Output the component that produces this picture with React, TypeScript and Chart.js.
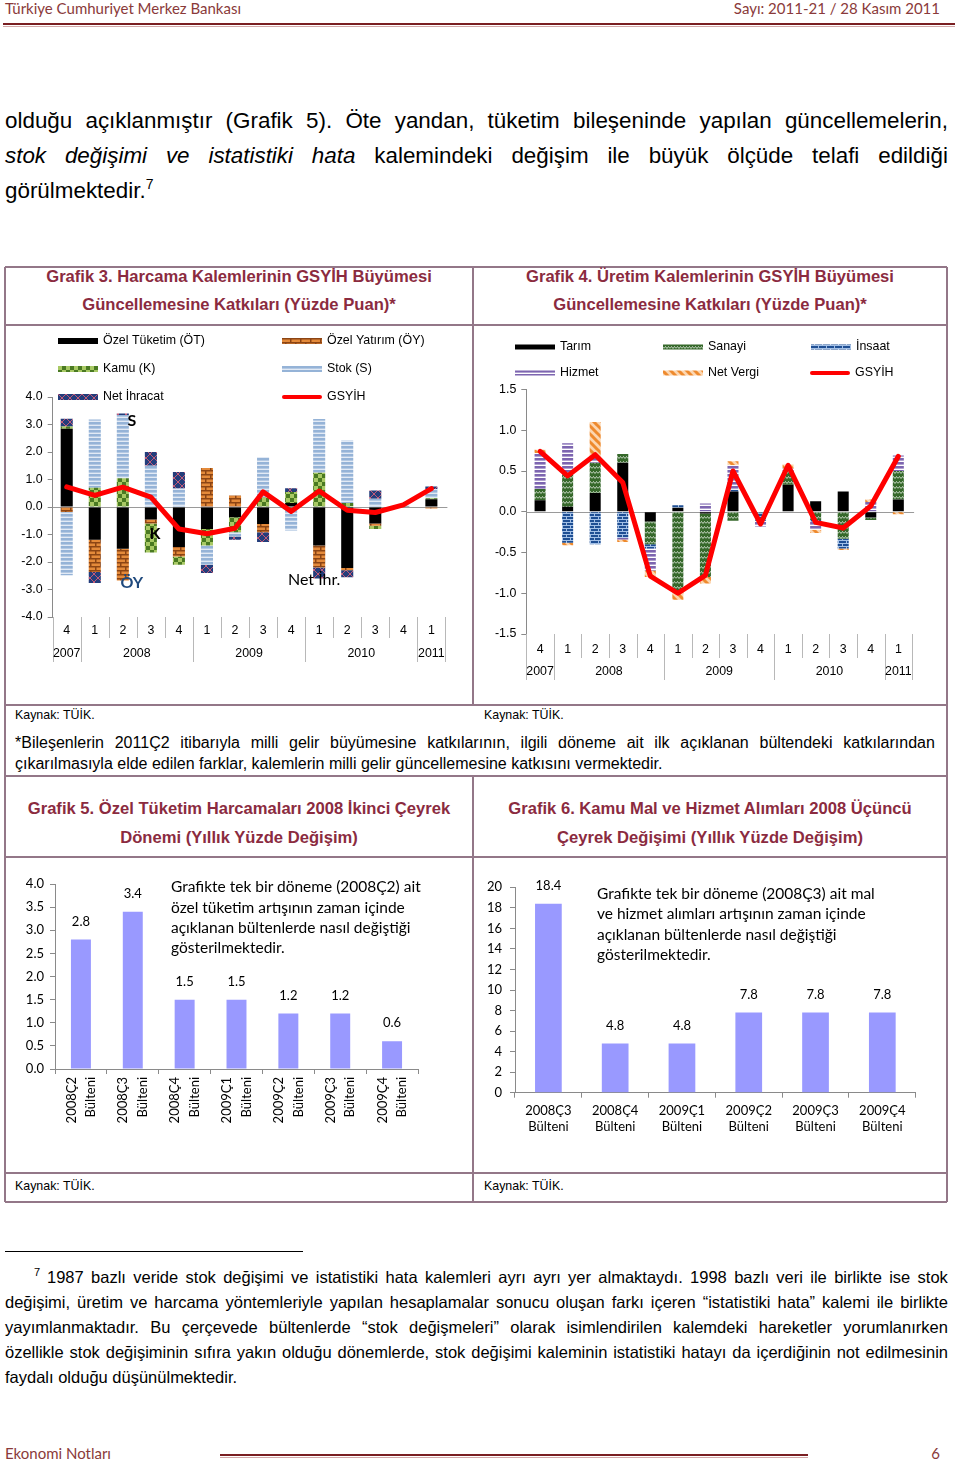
import React, { useEffect, useRef } from 'react';
import { Chart, registerables } from 'chart.js';
Chart.register(...registerables);

const ARIAL = '"Liberation Sans", Arial, sans-serif';
const LATO = 'Lato, "Open Sans", sans-serif';
const TITLE_COLOR = '#8b2b3f';
const BORDER = '#937788';

// ---------- Grafik 3 / 4 shared axis labels ----------
const quarterLabels = ['4', '1', '2', '3', '4', '1', '2', '3', '4', '1', '2', '3', '4', '1'];
const yearLabels = ['2007', '2008', '2009', '2010', '2011'];
const yearStart = [0, 1, 5, 9, 13];
const yearEnd = [0, 4, 8, 12, 13];

// ---------- Grafik 3 data (harcama kalemleri) ----------
const g3OT = [2.85, -1.19, -1.52, -0.45, -1.45, -0.8, -0.37, -0.62, 0.15, -1.4, -2.22, -0.6, 0.03, 0.28];
const g3OY = [-0.18, -1.17, -1.15, -0.15, -0.35, 1.42, 0.42, -0.3, -0.1, -0.8, -0.08, -0.08, 0.0, -0.05];
const g3K = [0.08, 0.7, 1.05, -1.05, -0.3, -0.6, -0.55, 0.35, 0.4, 1.25, 0.15, -0.12, 0.0, 0.04];
const g3S = [-2.3, 2.48, 2.3, 1.5, 0.67, -0.7, -0.15, 1.47, -0.75, 1.95, 2.27, 0.3, 0.03, 0.33];
const g3NX = [0.28, -0.4, 0.05, 0.5, 0.6, -0.3, -0.12, -0.35, 0.13, -0.4, -0.25, 0.3, 0.0, 0.1];
const g3GDP = [0.73, 0.42, 0.72, 0.36, -0.8, -0.97, -0.77, 0.55, -0.16, 0.58, -0.12, -0.2, 0.08, 0.67];

// ---------- Grafik 4 data (üretim kalemleri) ----------
const g4Tarim = [0.14, 0.06, 0.23, 0.6, -0.12, 0.05, -0.02, 0.25, 0.0, 0.33, 0.13, 0.25, -0.07, 0.15];
const g4Sanayi = [0.14, 0.39, 0.37, 0.11, -0.28, -0.98, -0.78, -0.11, -0.01, 0.17, -0.1, -0.33, -0.03, 0.35];
const g4Insaat = [0.0, -0.38, -0.4, -0.32, -0.05, 0.03, 0.0, 0.02, -0.1, 0.0, -0.02, -0.12, 0.0, 0.0];
const g4Hizmet = [0.44, 0.39, 0.06, -0.02, -0.27, 0.0, 0.1, 0.3, -0.07, 0.03, -0.1, 0.0, 0.12, 0.19];
const g4NetVergi = [0.04, -0.03, 0.44, -0.03, -0.08, -0.1, -0.08, 0.05, 0.0, 0.05, -0.04, -0.02, 0.03, -0.03];
const g4GDP = [0.74, 0.44, 0.7, 0.36, -0.79, -1.0, -0.78, 0.5, -0.15, 0.57, -0.13, -0.2, 0.07, 0.68];

// ---------- Grafik 5 data ----------
const g5Labels = ['2008Ç2', '2008Ç3', '2008Ç4', '2009Ç1', '2009Ç2', '2009Ç3', '2009Ç4'];
const g5Values = [2.8, 3.4, 1.5, 1.5, 1.2, 1.2, 0.6];

// ---------- Grafik 6 data ----------
const g6Labels = ['2008Ç3', '2008Ç4', '2009Ç1', '2009Ç2', '2009Ç3', '2009Ç4'];
const g6Values = [18.4, 4.8, 4.8, 7.8, 7.8, 7.8];

function makePatterns() {
  const mk = (w: number, h: number, fn: (c: CanvasRenderingContext2D) => void) => {
    const cv = document.createElement('canvas');
    cv.width = w;
    cv.height = h;
    const c = cv.getContext('2d')!;
    fn(c);
    return c.createPattern(cv, 'repeat')!;
  };
  return {
    oy: mk(10, 8, (c) => {
      c.fillStyle = '#e48a3a'; c.fillRect(0, 0, 10, 8);
      c.fillStyle = '#8c4514';
      c.fillRect(0, 0, 10, 1.5); c.fillRect(0, 4, 10, 1.5);
      c.fillRect(0, 0, 1.5, 4); c.fillRect(5, 4, 1.5, 4);
    }),
    k: mk(8, 8, (c) => {
      c.fillStyle = '#a8c964'; c.fillRect(0, 0, 8, 8);
      c.fillStyle = '#4a7a22'; c.fillRect(0, 0, 4, 4); c.fillRect(4, 4, 4, 4);
    }),
    s: mk(4, 4, (c) => {
      c.fillStyle = '#e2eaf5'; c.fillRect(0, 0, 4, 4);
      c.fillStyle = '#95b3d7'; c.fillRect(0, 0, 4, 2.6);
    }),
    nx: mk(8, 8, (c) => {
      c.fillStyle = '#233d7b'; c.fillRect(0, 0, 8, 8);
      c.strokeStyle = '#c25a78'; c.lineWidth = 1;
      c.beginPath(); c.moveTo(0, 0); c.lineTo(8, 8); c.moveTo(8, 0); c.lineTo(0, 8); c.stroke();
    }),
    san: mk(6, 5, (c) => {
      c.fillStyle = '#36692b'; c.fillRect(0, 0, 6, 5);
      c.strokeStyle = 'rgba(255,255,255,0.85)'; c.lineWidth = 0.8;
      c.beginPath(); c.moveTo(0, 3.5); c.lineTo(1.5, 1.5); c.lineTo(3, 3.5); c.lineTo(4.5, 1.5); c.lineTo(6, 3.5); c.stroke();
    }),
    ins: mk(8, 6, (c) => {
      c.fillStyle = '#1f4f94'; c.fillRect(0, 0, 8, 6);
      c.fillStyle = '#a3c0e6';
      c.fillRect(0, 0, 8, 1); c.fillRect(0, 3, 8, 1); c.fillRect(0, 0, 1, 3); c.fillRect(4, 3, 1, 3);
    }),
    hiz: mk(4, 4, (c) => {
      c.fillStyle = '#ffffff'; c.fillRect(0, 0, 4, 4);
      c.fillStyle = '#7d65b0'; c.fillRect(0, 0, 4, 2.6);
    }),
    nv: mk(8, 8, (c) => {
      c.fillStyle = '#fcd6b0'; c.fillRect(0, 0, 8, 8);
      c.strokeStyle = '#ee8a2e'; c.lineWidth = 3;
      c.beginPath();
      for (const o of [-8, 0, 8]) { c.moveTo(o - 1, -1); c.lineTo(o + 9, 9); }
      c.stroke();
    }),
  };
}

type LegendItem = { label: string; fill: any; line?: boolean; x: number; y: number };
type Note = { text: string; i: number; v: number; dx: number; color: string; bold: boolean };

function quarterPlugin(o: {
  qDy: number; yDy: number; shortLen: number; longLen: number;
  legend: LegendItem[]; canvasLeft: number; canvasTop: number; swW: number; swH: number; notes?: Note[];
}) {
  return {
    id: 'quarterAxis',
    beforeDatasetsDraw(chart: any) {
      const { ctx, chartArea, scales } = chart;
      const y0 = Math.round(scales.y.getPixelForValue(0)) + 0.5;
      ctx.save();
      ctx.strokeStyle = '#9a9a9a';
      ctx.lineWidth = 1;
      ctx.beginPath();
      ctx.moveTo(chartArea.left, y0);
      ctx.lineTo(chartArea.right + 2, y0);
      ctx.stroke();
      ctx.restore();
    },
    afterDraw(chart: any) {
      const { ctx, chartArea, scales } = chart;
      const { left, right, bottom } = chartArea;
      const x = scales.x;
      const y = scales.y;
      const n = quarterLabels.length;
      const w = (right - left) / n;
      ctx.save();
      ctx.strokeStyle = '#b8b8b8';
      ctx.lineWidth = 1;
      const longSet = new Set([...yearStart, n]);
      for (let i = 0; i <= n; i++) {
        const px = Math.round(left + i * w) + 0.5;
        ctx.beginPath();
        ctx.moveTo(px, bottom);
        ctx.lineTo(px, bottom + (longSet.has(i) ? o.longLen : o.shortLen));
        ctx.stroke();
      }
      ctx.fillStyle = '#000';
      ctx.font = `12.4px ${ARIAL}`;
      ctx.textAlign = 'center';
      ctx.textBaseline = 'middle';
      quarterLabels.forEach((q, i) => ctx.fillText(q, x.getPixelForValue(i), bottom + o.qDy));
      yearLabels.forEach((yl, k) => {
        const cx = (x.getPixelForValue(yearStart[k]) + x.getPixelForValue(yearEnd[k])) / 2;
        ctx.fillText(yl, cx, bottom + o.yDy);
      });
      // legend
      ctx.textAlign = 'left';
      o.legend.forEach((it) => {
        const lx = it.x - o.canvasLeft;
        const ly = it.y - o.canvasTop;
        if (it.line) {
          ctx.strokeStyle = it.fill;
          ctx.lineWidth = 4;
          ctx.lineCap = 'round';
          ctx.beginPath();
          ctx.moveTo(lx + 2, ly);
          ctx.lineTo(lx + o.swW - 2, ly);
          ctx.stroke();
        } else {
          ctx.fillStyle = it.fill;
          ctx.fillRect(lx, ly - o.swH / 2, o.swW, o.swH);
        }
        ctx.fillStyle = '#000';
        ctx.fillText(it.label, lx + o.swW + 5, ly);
      });
      // annotations
      (o.notes || []).forEach((nt) => {
        ctx.fillStyle = nt.color;
        ctx.font = `${nt.bold ? 'bold ' : ''}16px ${LATO}`;
        ctx.textAlign = 'center';
        ctx.fillText(nt.text, x.getPixelForValue(nt.i) + nt.dx, y.getPixelForValue(nt.v));
      });
      ctx.restore();
    },
  };
}

function ChartBox({ left, top, width, height, make }: { left: number; top: number; width: number; height: number; make: () => any }) {
  const ref = useRef<HTMLCanvasElement>(null);
  useEffect(() => {
    const c = new Chart(ref.current!, make());
    return () => c.destroy();
  }, []);
  return (
    <canvas
      ref={ref}
      width={width}
      height={height}
      style={{ position: 'absolute', left, top, width, height }}
    />
  );
}

const lineDs = (data: number[]) => ({
  type: 'line',
  label: 'GSYİH',
  data,
  borderColor: '#ff0000',
  borderWidth: 5,
  pointRadius: 0,
  tension: 0,
  order: 0,
  borderJoinStyle: 'round',
  borderCapStyle: 'round',
});

function yAxis(min: number, max: number, step: number, width: number, fontFamily: string, size: number, pad: number, decimals: number) {
  return {
    min,
    max,
    stacked: true,
    ticks: {
      stepSize: step,
      callback: (v: number) => Number(v).toFixed(decimals),
      font: { family: fontFamily, size },
      color: '#000',
      padding: pad,
    },
    grid: { drawOnChartArea: false, drawTicks: true, tickLength: 5, color: '#8a8a8a' },
    border: { color: '#8a8a8a' },
    afterFit: (s: any) => { s.width = width; },
  };
}

function makeG3() {
  const p = makePatterns();
  const bar = { type: 'bar', order: 1, barPercentage: 0.43, categoryPercentage: 1, borderWidth: 0 };
  const legend: LegendItem[] = [
    { label: 'Özel Tüketim (ÖT)', fill: '#000', x: 58, y: 341 },
    { label: 'Kamu (K)', fill: p.k, x: 58, y: 369 },
    { label: 'Net İhracat', fill: p.nx, x: 58, y: 397 },
    { label: 'Özel Yatırım (ÖY)', fill: p.oy, x: 282, y: 341 },
    { label: 'Stok (S)', fill: p.s, x: 282, y: 369 },
    { label: 'GSYİH', fill: '#ff0000', line: true, x: 282, y: 397 },
  ];
  const notes: Note[] = [
    { text: 'S', i: 2, v: 3.13, dx: 9, color: '#000', bold: true },
    { text: 'K', i: 3, v: -0.98, dx: 4, color: '#000', bold: true },
    { text: 'ÖY', i: 2, v: -2.75, dx: 9, color: '#1f497d', bold: true },
    { text: 'Net İhr.', i: 9, v: -2.66, dx: -5, color: '#000', bold: false },
  ];
  return {
    type: 'bar',
    data: {
      labels: quarterLabels,
      datasets: [
        lineDs(g3GDP),
        { ...bar, label: 'Özel Tüketim (ÖT)', data: g3OT, backgroundColor: '#000' },
        { ...bar, label: 'Özel Yatırım (ÖY)', data: g3OY, backgroundColor: p.oy },
        { ...bar, label: 'Kamu (K)', data: g3K, backgroundColor: p.k },
        { ...bar, label: 'Stok (S)', data: g3S, backgroundColor: p.s },
        { ...bar, label: 'Net İhracat', data: g3NX, backgroundColor: p.nx },
      ],
    },
    options: {
      responsive: false,
      animation: false,
      layout: { padding: { left: 0, top: 67, right: 19.6, bottom: 0 } },
      plugins: { legend: { display: false }, tooltip: { enabled: false } },
      scales: {
        x: {
          stacked: true,
          grid: { display: false },
          border: { display: false },
          ticks: { display: false },
          afterFit: (s: any) => { s.height = 58; },
        },
        y: yAxis(-4, 4, 1, 42.7, ARIAL, 12.4, 5, 1),
      },
    },
    plugins: [quarterPlugin({ qDy: 14, yDy: 37, shortLen: 21, longLen: 45, legend, canvasLeft: 10, canvasTop: 330, swW: 40, swH: 6, notes })],
  };
}

function makeG4() {
  const p = makePatterns();
  const bar = { type: 'bar', order: 1, barPercentage: 0.4, categoryPercentage: 1, borderWidth: 0 };
  const legend: LegendItem[] = [
    { label: 'Tarım', fill: '#000', x: 515, y: 347 },
    { label: 'Sanayi', fill: p.san, x: 663, y: 347 },
    { label: 'İnsaat', fill: p.ins, x: 811, y: 347 },
    { label: 'Hizmet', fill: p.hiz, x: 515, y: 373 },
    { label: 'Net Vergi', fill: p.nv, x: 663, y: 373 },
    { label: 'GSYİH', fill: '#ff0000', line: true, x: 810, y: 373 },
  ];
  return {
    type: 'bar',
    data: {
      labels: quarterLabels,
      datasets: [
        lineDs(g4GDP),
        { ...bar, label: 'Tarım', data: g4Tarim, backgroundColor: '#000' },
        { ...bar, label: 'Sanayi', data: g4Sanayi, backgroundColor: p.san },
        { ...bar, label: 'İnsaat', data: g4Insaat, backgroundColor: p.ins },
        { ...bar, label: 'Hizmet', data: g4Hizmet, backgroundColor: p.hiz },
        { ...bar, label: 'Net Vergi', data: g4NetVergi, backgroundColor: p.nv },
      ],
    },
    options: {
      responsive: false,
      animation: false,
      layout: { padding: { left: 0, top: 59.5, right: 30.9, bottom: 0 } },
      plugins: { legend: { display: false }, tooltip: { enabled: false } },
      scales: {
        x: {
          stacked: true,
          grid: { display: false },
          border: { display: false },
          ticks: { display: false },
          afterFit: (s: any) => { s.height = 56; },
        },
        y: yAxis(-1.5, 1.5, 0.5, 48.3, ARIAL, 12.4, 5, 1),
      },
    },
    plugins: [quarterPlugin({ qDy: 16, yDy: 38, shortLen: 24, longLen: 46, legend, canvasLeft: 478, canvasTop: 330, swW: 40, swH: 5 })],
  };
}

const valueLabelPlugin = {
  id: 'valueLabels',
  afterDatasetsDraw(chart: any) {
    const { ctx } = chart;
    const meta = chart.getDatasetMeta(0);
    const data = chart.data.datasets[0].data as number[];
    ctx.save();
    ctx.fillStyle = '#000';
    ctx.font = `13px ${LATO}`;
    ctx.textAlign = 'center';
    ctx.textBaseline = 'middle';
    meta.data.forEach((el: any, i: number) => {
      ctx.fillText(Number(data[i]).toFixed(1), el.x, el.y - 18);
    });
    ctx.restore();
  },
};

const rotatedLabelPlugin = {
  id: 'rotLabels',
  afterDraw(chart: any) {
    const { ctx, chartArea, scales } = chart;
    ctx.save();
    ctx.fillStyle = '#000';
    ctx.font = `13px ${LATO}`;
    ctx.textAlign = 'right';
    ctx.textBaseline = 'middle';
    g5Labels.forEach((lab, i) => {
      const cx = scales.x.getPixelForValue(i);
      const ty = chartArea.bottom + 8;
      [[lab, -9.5], ['Bülteni', 10]].forEach(([t, dx]) => {
        ctx.save();
        ctx.translate(cx + (dx as number), ty);
        ctx.rotate(-Math.PI / 2);
        ctx.fillText(t as string, 0, 0);
        ctx.restore();
      });
    });
    ctx.restore();
  },
};

function simpleBar(labels: any[], values: number[], pct: number, padding: any, yW: number, xH: number, yMin: number, yMax: number, step: number, decimals: number, yPad: number, showTicks: boolean) {
  return {
    type: 'bar',
    data: {
      labels,
      datasets: [{ data: values, backgroundColor: '#9999ff', barPercentage: pct, categoryPercentage: 1, borderWidth: 0 }],
    },
    options: {
      responsive: false,
      animation: false,
      layout: { padding },
      plugins: { legend: { display: false }, tooltip: { enabled: false } },
      scales: {
        x: {
          grid: { drawOnChartArea: false, drawTicks: true, tickLength: 5, color: '#8a8a8a', offset: true },
          border: { color: '#8a8a8a' },
          ticks: { display: showTicks, font: { family: LATO, size: 13, lineHeight: 1.25 }, color: '#000', padding: 5, maxRotation: 0, minRotation: 0 },
          afterFit: (s: any) => { s.height = xH; },
        },
        y: {
          min: yMin,
          max: yMax,
          ticks: { stepSize: step, callback: (v: number) => Number(v).toFixed(decimals), font: { family: LATO, size: 13 }, color: '#000', padding: yPad },
          grid: { drawOnChartArea: false, drawTicks: true, tickLength: 5, color: '#8a8a8a' },
          border: { color: '#8a8a8a' },
          afterFit: (s: any) => { s.width = yW; },
        },
      },
    },
  };
}

function makeG5() {
  const cfg: any = simpleBar(g5Labels, g5Values, 0.385, { left: 0, top: 22, right: 47, bottom: 0 }, 45, 101, 0, 4, 0.5, 1, 6, false);
  cfg.plugins = [valueLabelPlugin, rotatedLabelPlugin];
  return cfg;
}

function makeG6() {
  const labels = g6Labels.map((l) => [l, 'Bülteni']);
  const cfg: any = simpleBar(labels, g6Values, 0.4, { left: 0, top: 25.3, right: 27.3, bottom: 0 }, 37, 81.3, 0, 20, 2, 0, 8, true);
  cfg.plugins = [valueLabelPlugin];
  return cfg;
}

// ---------- text helpers ----------
function T({ x, y, size, children, bold, italic, color = '#000', align = 'left', w, family = ARIAL }: any) {
  const lh = size * 1.2;
  const style: any = {
    position: 'absolute',
    top: y - lh / 2,
    fontSize: size,
    lineHeight: `${lh}px`,
    fontWeight: bold ? 700 : 400,
    fontStyle: italic ? 'italic' : 'normal',
    color,
    fontFamily: family,
    whiteSpace: 'nowrap',
    textAlign: align,
  };
  if (align === 'center') { style.left = x - w / 2; style.width = w; }
  else if (align === 'right') { style.left = x - w; style.width = w; }
  else { style.left = x; }
  return <div style={style}>{children}</div>;
}

type Seg = string | { t: string; i?: boolean };
function J({ x, y, w, size, segs }: { x: number; y: number; w: number; size: number; segs: Seg[] }) {
  const words: { t: string; i: boolean }[] = [];
  segs.forEach((s) => {
    const o = typeof s === 'string' ? { t: s, i: false } : { t: s.t, i: !!s.i };
    o.t.split(' ').filter(Boolean).forEach((wd) => words.push({ t: wd, i: o.i }));
  });
  const lh = size * 1.2;
  return (
    <div style={{ position: 'absolute', left: x, top: y - lh / 2, width: w, height: lh, display: 'flex', justifyContent: 'space-between', fontFamily: ARIAL, fontSize: size, lineHeight: `${lh}px`, whiteSpace: 'nowrap', color: '#000' }}>
      {words.map((wd, k) => (
        <span key={k} style={{ fontStyle: wd.i ? 'italic' : 'normal' }}>{wd.t}</span>
      ))}
    </div>
  );
}

function HL({ x, y, w, t = 1.5, c = BORDER }: any) {
  return <div style={{ position: 'absolute', left: x, top: y - t / 2, width: w, height: t, background: c }} />;
}
function VL({ x, y, h, t = 1.5, c = BORDER }: any) {
  return <div style={{ position: 'absolute', left: x - t / 2, top: y, width: t, height: h, background: c }} />;
}

export default function App() {
  useEffect(() => {
    document.body.style.margin = '0';
    document.body.style.background = '#fff';
  }, []);
  const hdr = '#8a3a3a';
  return (
    <div style={{ position: 'absolute', left: 0, top: 0, width: 960, height: 1463, overflow: 'hidden', background: '#fff' }}>
      {/* header */}
      <T x={5} y={8} size={15} family={LATO} color={hdr}>Türkiye Cumhuriyet Merkez Bankası</T>
      <T x={940} y={8} size={15} family={LATO} color={hdr} align="right" w={300}>Sayı: 2011-21 / 28 Kasım 2011</T>
      <HL x={3} y={24} w={952} t={2} c="#7a1f22" />
      <HL x={3} y={26} w={952} t={1} c="#d2a9a9" />

      {/* body text */}
      <J x={5} y={121} w={943} size={22.4} segs={['olduğu açıklanmıştır (Grafik 5). Öte yandan, tüketim bileşeninde yapılan güncellemelerin,']} />
      <J x={5} y={156} w={943} size={22.4} segs={[{ t: 'stok değişimi ve istatistiki hata', i: true }, 'kalemindeki değişim ile büyük ölçüde telafi edildiği']} />
      <T x={5} y={191} size={22.4}>görülmektedir.<span style={{ fontSize: 14, verticalAlign: 9, lineHeight: 0 }}>7</span></T>

      {/* upper table */}
      <HL x={5} y={267} w={942} />
      <HL x={5} y={325} w={942} />
      <HL x={5} y={705} w={942} />
      <HL x={5} y={776} w={942} />
      <VL x={5} y={267} h={509} />
      <VL x={947} y={267} h={509} />
      <VL x={473} y={267} h={438} />

      <T x={239} y={277} size={16.6} bold color={TITLE_COLOR} align="center" w={460}>Grafik 3. Harcama Kalemlerinin GSYİH Büyümesi</T>
      <T x={239} y={305} size={16.6} bold color={TITLE_COLOR} align="center" w={460}>Güncellemesine Katkıları (Yüzde Puan)*</T>
      <T x={710} y={277} size={16.6} bold color={TITLE_COLOR} align="center" w={460}>Grafik 4. Üretim Kalemlerinin GSYİH Büyümesi</T>
      <T x={710} y={305} size={16.6} bold color={TITLE_COLOR} align="center" w={460}>Güncellemesine Katkıları (Yüzde Puan)*</T>

      <ChartBox left={10} top={330} width={455} height={345} make={makeG3} />
      <ChartBox left={478} top={330} width={465} height={360} make={makeG4} />

      <T x={15} y={715} size={12.4}>Kaynak: TÜİK.</T>
      <T x={484} y={715} size={12.4}>Kaynak: TÜİK.</T>
      <J x={15} y={743} w={920} size={16} segs={['*Bileşenlerin 2011Ç2 itibarıyla milli gelir büyümesine katkılarının, ilgili döneme ait ilk açıklanan bültendeki katkılarından']} />
      <T x={15} y={764} size={16}>çıkarılmasıyla elde edilen farklar, kalemlerin milli gelir güncellemesine katkısını vermektedir.</T>

      {/* lower table */}
      <HL x={5} y={857} w={942} />
      <HL x={5} y={1173} w={942} />
      <HL x={5} y={1202} w={942} />
      <VL x={5} y={776} h={426} />
      <VL x={947} y={776} h={426} />
      <VL x={473} y={776} h={426} />

      <T x={239} y={809} size={16.6} bold color={TITLE_COLOR} align="center" w={460}>Grafik 5. Özel Tüketim Harcamaları 2008 İkinci Çeyrek</T>
      <T x={239} y={838} size={16.6} bold color={TITLE_COLOR} align="center" w={460}>Dönemi (Yıllık Yüzde Değişim)</T>
      <T x={710} y={809} size={16.6} bold color={TITLE_COLOR} align="center" w={460}>Grafik 6. Kamu Mal ve Hizmet Alımları 2008 Üçüncü</T>
      <T x={710} y={838} size={16.6} bold color={TITLE_COLOR} align="center" w={460}>Çeyrek Değişimi (Yıllık Yüzde Değişim)</T>

      <ChartBox left={10} top={862} width={455} height={308} make={makeG5} />
      <ChartBox left={478} top={862} width={465} height={312} make={makeG6} />

      <T x={171} y={886} size={15.5} family={LATO}>Grafikte tek bir döneme (2008Ç2) ait</T>
      <T x={171} y={907} size={15.5} family={LATO}>özel tüketim artışının zaman içinde</T>
      <T x={171} y={927} size={15.5} family={LATO}>açıklanan bültenlerde nasıl değiştiği</T>
      <T x={171} y={947} size={15.5} family={LATO}>gösterilmektedir.</T>

      <T x={597} y={893} size={15.5} family={LATO}>Grafikte tek bir döneme (2008Ç3) ait mal</T>
      <T x={597} y={913} size={15.5} family={LATO}>ve hizmet alımları artışının zaman içinde</T>
      <T x={597} y={934} size={15.5} family={LATO}>açıklanan bültenlerde nasıl değiştiği</T>
      <T x={597} y={954} size={15.5} family={LATO}>gösterilmektedir.</T>

      <T x={15} y={1186} size={12.4}>Kaynak: TÜİK.</T>
      <T x={484} y={1186} size={12.4}>Kaynak: TÜİK.</T>

      {/* footnote */}
      <HL x={5} y={1251} w={298} t={1} c="#000" />
      <T x={34} y={1273} size={11}>7</T>
      <J x={47} y={1278} w={901} size={16.5} segs={['1987 bazlı veride stok değişimi ve istatistiki hata kalemleri ayrı ayrı yer almaktaydı. 1998 bazlı veri ile birlikte ise stok']} />
      <J x={5} y={1303} w={943} size={16.5} segs={['değişimi, üretim ve harcama yöntemleriyle yapılan hesaplamalar sonucu oluşan farkı içeren “istatistiki hata” kalemi ile birlikte']} />
      <J x={5} y={1328} w={943} size={16.5} segs={['yayımlanmaktadır. Bu çerçevede bültenlerde “stok değişmeleri” olarak isimlendirilen kalemdeki hareketler yorumlanırken']} />
      <J x={5} y={1353} w={943} size={16.5} segs={['özellikle stok değişiminin sıfıra yakın olduğu dönemlerde, stok değişimi kaleminin istatistiki hatayı da içerdiğinin not edilmesinin']} />
      <T x={5} y={1378} size={16.5}>faydalı olduğu düşünülmektedir.</T>

      {/* footer */}
      <T x={5} y={1453} size={15} family={LATO} color={hdr}>Ekonomi Notları</T>
      <HL x={220} y={1455} w={588} t={2} c="#7a1f22" />
      <HL x={220} y={1457} w={588} t={1} c="#d2a9a9" />
      <T x={940} y={1453} size={15} family={LATO} color={hdr} align="right" w={40}>6</T>
    </div>
  );
}
